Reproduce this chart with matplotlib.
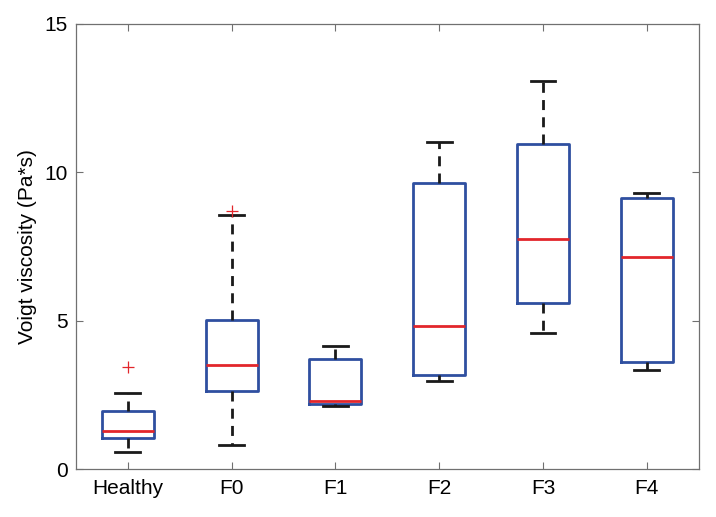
import matplotlib
matplotlib.use("Agg")
import matplotlib.pyplot as plt

# values
groups = ["Healthy", "F0", "F1", "F2", "F3", "F4"]
whisker_low = [0.59, 0.81, 2.14, 2.98, 4.58, 3.33]
q1 = [1.07, 2.64, 2.20, 3.18, 5.61, 3.60]
medians = [1.29, 3.50, 2.31, 4.83, 7.75, 7.16]
q3 = [1.96, 5.04, 3.70, 9.63, 10.96, 9.14]
whisker_high = [2.57, 8.55, 4.16, 11.02, 13.07, 9.30]
outliers = [[3.44], [8.70], [], [], [], []]

yticks = [0, 5, 10, 15]

plt.rcParams['font.family'] = ['Liberation Sans', 'DejaVu Sans']

stats = []
for i, g in enumerate(groups):
    stats.append(dict(label=g, whislo=whisker_low[i], q1=q1[i], med=medians[i],
                      q3=q3[i], whishi=whisker_high[i], fliers=outliers[i]))

fig = plt.figure(figsize=(7.16, 5.17), dpi=100)
ax = fig.add_axes([0.1061, 0.0923, 0.8697, 0.8613])

box_col = "#2f4fa0"
ax.bxp(stats, positions=range(1, len(groups) + 1), widths=0.5, capwidths=0.24,
       boxprops=dict(color=box_col, linewidth=2.0),
       medianprops=dict(color="#e2262b", linewidth=2.0),
       whiskerprops=dict(color="#1a1a1a", linewidth=2.0, linestyle=(0, (3.6, 2.6))),
       capprops=dict(color="#1a1a1a", linewidth=2.0),
       flierprops=dict(marker="+", markeredgecolor="#e2262b", markersize=8,
                       markeredgewidth=0.9, linestyle="none"))

ax.set_xlim(0.5, len(groups) + 0.5)
ax.set_ylim(0, 15)
ax.set_yticks(yticks)
ax.set_yticklabels([str(t) for t in yticks])
ax.set_ylabel("Voigt viscosity (Pa*s)", fontsize=15, labelpad=5)

for s in ax.spines.values():
    s.set_color("#707070")
    s.set_linewidth(0.9)
ax.tick_params(direction="in", length=5, width=0.8, color="#707070",
               labelsize=15, top=True, right=True, labelcolor="black")
ax.tick_params(axis="x", pad=7)
ax.tick_params(axis="y", pad=6)

fig.savefig("out.png", dpi=100)
